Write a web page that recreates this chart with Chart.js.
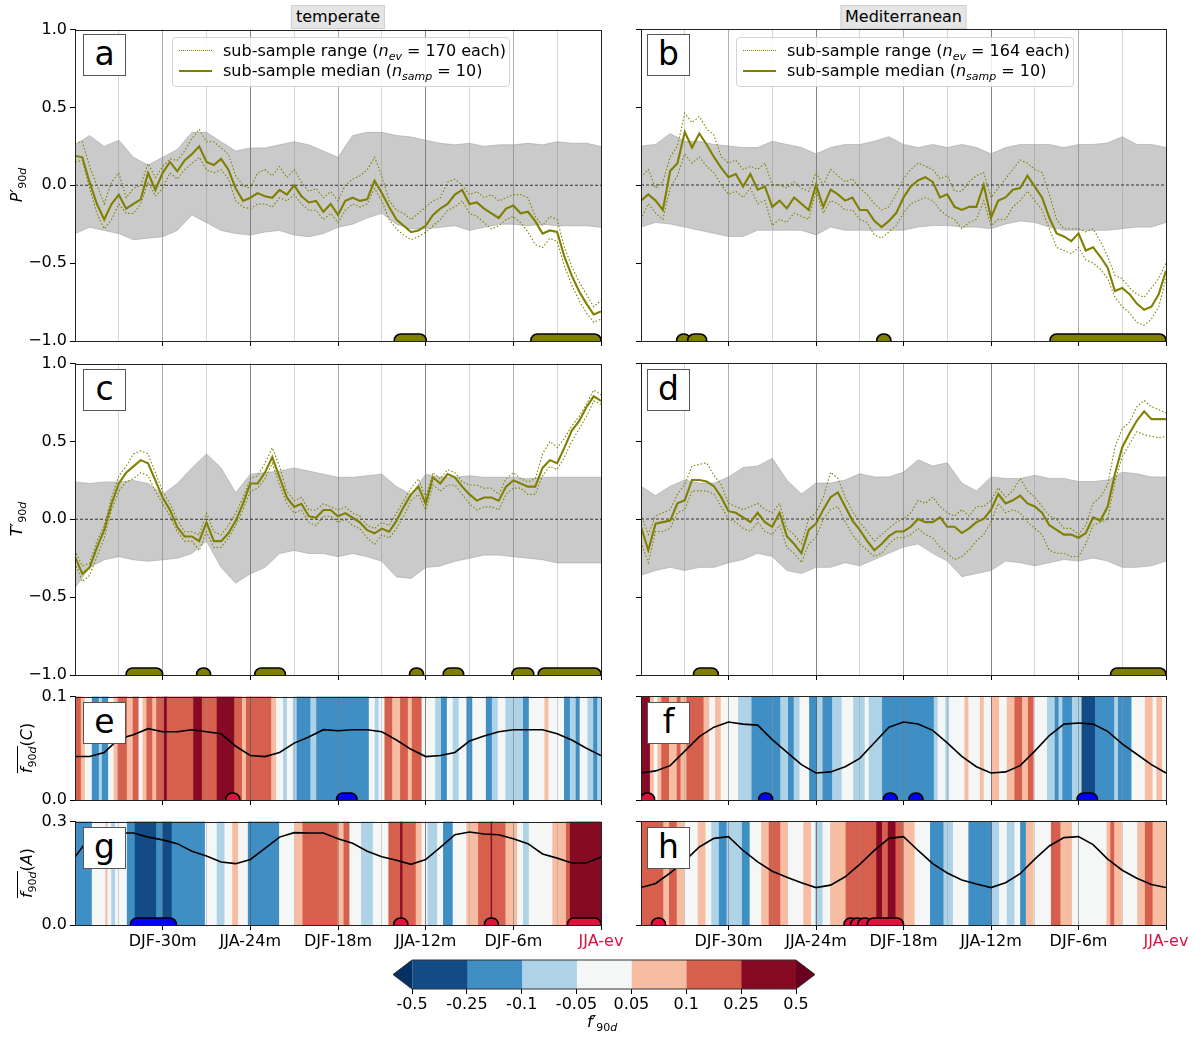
<!DOCTYPE html>
<html>
<head>
<meta charset="utf-8">
<script src="https://cdn.jsdelivr.net/npm/chart.js@4.4.0/dist/chart.umd.min.js"></script>
<style>
  body { margin: 0; background: #fff; font-family: "DejaVu Sans", sans-serif; }
  #fig { position: relative; width: 1202px; height: 1037px; overflow: hidden; background: #fff; }
  canvas { position: absolute; }
  .ov { position: absolute; color: #000; font-size: 16px; white-space: nowrap; }
  .letter { position: absolute; background: #fff; border: 1px solid #555; font-size: 33px;
            text-align: center; box-sizing: border-box; }
  .title { position: absolute; background: #e5e5e5; border: 1px solid #cfcfcf; font-size: 16px;
           padding: 0 4px; height: 22px; line-height: 22px; transform: translateX(-50%); }
  .ytitle { position: absolute; font-size: 16px; transform: translate(-50%, -50%) rotate(-90deg); white-space: nowrap; }
  .legend { position: absolute; background: rgba(255,255,255,0.85); border: 1px solid #d4d4d4;
            border-radius: 4px; box-sizing: border-box; }
  sub { font-size: 11px; vertical-align: -4px; }
  i { font-style: italic; }
</style>
</head>
<body>
<div id="fig"></div>
<script>
// ---------- DATA ----------
const monthGrid = [-36,-35,-34,-33,-32,-31,-30,-29,-28,-27,-26,-25,-24,-23,-22,-21,-20,-19,-18,-17,-16,-15,-14,-13,-12,-11,-10,-9,-8,-7,-6,-5,-4,-3,-2,-1,0];
const halfMonthGrid = [-36,-35.5,-35,-34.5,-34,-33.5,-33,-32.5,-32,-31.5,-31,-30.5,-30,-29.5,-29,-28.5,-28,-27.5,-27,-26.5,-26,-25.5,-25,-24.5,-24,-23.5,-23,-22.5,-22,-21.5,-21,-20.5,-20,-19.5,-19,-18.5,-18,-17.5,-17,-16.5,-16,-15.5,-15,-14.5,-14,-13.5,-13,-12.5,-12,-11.5,-11,-10.5,-10,-9.5,-9,-8.5,-8,-7.5,-7,-6.5,-6,-5.5,-5,-4.5,-4,-3.5,-3,-2.5,-2,-1.5,-1,-0.5,0];

const xTickMonths = [-30, -24, -18, -12, -6, 0];
const xTickLabels = ["DJF-30m", "JJA-24m", "DJF-18m", "JJA-12m", "DJF-6m", "JJA-ev"];

// panel a: P' temperate
const aMedian = [0.19,0.18,0.02,-0.12,-0.22,-0.12,-0.06,-0.15,-0.12,-0.09,0.08,-0.03,0.08,0.15,0.09,0.16,0.20,0.25,0.15,0.13,0.17,0.10,-0.02,-0.10,-0.08,-0.05,-0.07,-0.08,-0.03,-0.06,0.00,-0.07,-0.11,-0.10,-0.17,-0.12,-0.19,-0.10,-0.08,-0.10,-0.09,0.03,-0.05,-0.14,-0.22,-0.26,-0.30,-0.29,-0.26,-0.19,-0.15,-0.12,-0.06,-0.03,-0.12,-0.11,-0.15,-0.18,-0.21,-0.15,-0.13,-0.18,-0.17,-0.23,-0.31,-0.29,-0.30,-0.46,-0.58,-0.68,-0.76,-0.83,-0.81];
const aRangeHi = [0.27,0.28,0.12,0.00,-0.12,0.02,0.08,-0.08,-0.02,0.00,0.14,0.05,0.12,0.17,0.16,0.22,0.30,0.36,0.28,0.28,0.24,0.20,0.06,0.00,-0.02,0.08,0.10,0.06,0.12,0.05,0.10,0.02,-0.04,-0.02,-0.08,-0.04,-0.10,0.00,0.04,0.06,0.10,0.18,0.06,-0.10,-0.16,-0.18,-0.22,-0.18,-0.14,-0.10,-0.08,0.02,0.04,0.00,-0.06,-0.04,-0.08,-0.06,-0.10,-0.08,-0.06,-0.06,-0.08,-0.20,-0.26,-0.20,-0.22,-0.40,-0.52,-0.62,-0.70,-0.78,-0.74];
const aRangeLo = [0.15,0.16,-0.02,-0.18,-0.28,-0.22,-0.12,-0.18,-0.18,-0.12,0.02,-0.07,-0.02,0.08,0.04,0.10,0.14,0.18,0.10,0.08,0.10,0.04,-0.10,-0.14,-0.15,-0.12,-0.12,-0.14,-0.08,-0.10,-0.06,-0.12,-0.16,-0.16,-0.22,-0.18,-0.24,-0.16,-0.12,-0.14,-0.12,-0.02,-0.10,-0.22,-0.28,-0.32,-0.35,-0.33,-0.30,-0.26,-0.22,-0.16,-0.14,-0.10,-0.18,-0.20,-0.24,-0.28,-0.26,-0.22,-0.20,-0.24,-0.30,-0.38,-0.40,-0.34,-0.36,-0.52,-0.64,-0.74,-0.82,-0.88,-0.86];
const aBandHi = [0.26,0.32,0.25,0.29,0.18,0.13,0.18,0.23,0.34,0.34,0.28,0.22,0.24,0.24,0.26,0.28,0.26,0.22,0.18,0.32,0.34,0.34,0.32,0.31,0.29,0.27,0.26,0.27,0.25,0.26,0.26,0.27,0.26,0.28,0.27,0.27,0.25];
const aBandLo = [-0.31,-0.27,-0.29,-0.31,-0.35,-0.34,-0.33,-0.29,-0.19,-0.24,-0.29,-0.31,-0.32,-0.30,-0.29,-0.32,-0.33,-0.31,-0.27,-0.25,-0.21,-0.18,-0.25,-0.28,-0.28,-0.27,-0.26,-0.29,-0.27,-0.25,-0.25,-0.26,-0.25,-0.26,-0.26,-0.26,-0.27];
const aSig = [[-14.15, -11.96], [-4.8, 0]];

// panel b: P' Mediterranean
const bMedian = [-0.10,-0.06,-0.10,-0.16,0.09,0.14,0.34,0.24,0.33,0.26,0.18,0.11,0.05,0.07,-0.01,0.07,-0.03,-0.01,-0.14,-0.10,-0.15,-0.08,-0.12,-0.16,0.00,-0.14,-0.03,-0.06,-0.10,-0.08,-0.16,-0.16,-0.23,-0.27,-0.23,-0.18,-0.08,-0.01,0.03,0.05,0.02,-0.08,-0.06,-0.14,-0.16,-0.14,-0.14,0.00,-0.21,-0.10,-0.08,-0.03,-0.02,0.06,-0.01,-0.08,-0.21,-0.31,-0.33,-0.36,-0.31,-0.42,-0.40,-0.46,-0.53,-0.68,-0.66,-0.70,-0.76,-0.80,-0.78,-0.70,-0.55];
const bRangeHi = [0.05,0.10,-0.02,0.02,0.18,0.25,0.46,0.40,0.44,0.36,0.32,0.18,0.14,0.16,0.10,0.12,0.10,0.14,0.00,0.00,-0.02,0.02,-0.02,-0.04,0.08,0.00,0.10,0.06,0.02,0.04,-0.02,-0.06,-0.12,-0.16,-0.14,-0.06,0.04,0.10,0.14,0.12,0.10,0.04,0.06,-0.04,-0.04,0.02,0.06,0.08,-0.08,-0.02,0.04,0.10,0.16,0.14,0.10,0.08,-0.06,-0.22,-0.28,-0.28,-0.28,-0.30,-0.28,-0.36,-0.46,-0.58,-0.60,-0.66,-0.70,-0.72,-0.66,-0.60,-0.50];
const bRangeLo = [-0.22,-0.12,-0.18,-0.22,-0.02,0.06,0.20,0.14,0.18,0.12,0.08,0.00,-0.06,-0.04,-0.08,-0.02,-0.12,-0.10,-0.26,-0.22,-0.24,-0.18,-0.20,-0.22,-0.04,-0.18,-0.10,-0.12,-0.16,-0.16,-0.22,-0.24,-0.32,-0.34,-0.30,-0.26,-0.18,-0.12,-0.10,-0.08,-0.10,-0.16,-0.20,-0.22,-0.28,-0.24,-0.22,-0.10,-0.26,-0.22,-0.22,-0.14,-0.10,-0.04,-0.10,-0.16,-0.28,-0.40,-0.42,-0.44,-0.40,-0.48,-0.50,-0.54,-0.60,-0.72,-0.78,-0.82,-0.88,-0.90,-0.86,-0.78,-0.60];
const bBandHi = [0.25,0.26,0.33,0.28,0.28,0.26,0.25,0.24,0.24,0.28,0.26,0.24,0.20,0.24,0.26,0.26,0.28,0.31,0.26,0.24,0.26,0.24,0.26,0.24,0.20,0.24,0.26,0.26,0.26,0.24,0.26,0.26,0.27,0.31,0.26,0.26,0.24];
const bBandLo = [-0.27,-0.24,-0.25,-0.27,-0.29,-0.31,-0.33,-0.33,-0.29,-0.29,-0.29,-0.29,-0.32,-0.27,-0.29,-0.29,-0.29,-0.29,-0.29,-0.27,-0.26,-0.26,-0.27,-0.27,-0.28,-0.25,-0.23,-0.24,-0.27,-0.29,-0.29,-0.29,-0.29,-0.28,-0.27,-0.27,-0.24];
const bSig = [[-33.55, -32.6], [-32.8, -31.5], [-19.7, -19.0], [-7.95, 0]];

// panel c: T' temperate
const cMedian = [-0.24,-0.35,-0.31,-0.18,-0.07,0.10,0.23,0.30,0.34,0.38,0.36,0.25,0.14,0.06,-0.05,-0.11,-0.11,-0.14,-0.02,-0.14,-0.14,-0.09,-0.01,0.10,0.23,0.23,0.30,0.40,0.27,0.14,0.08,0.10,0.02,0.01,0.06,0.06,0.02,0.04,0.01,-0.02,-0.07,-0.09,-0.06,-0.08,-0.01,0.08,0.16,0.21,0.10,0.27,0.23,0.29,0.27,0.21,0.16,0.12,0.14,0.14,0.12,0.21,0.25,0.23,0.21,0.21,0.33,0.38,0.36,0.46,0.57,0.63,0.72,0.79,0.76];
const cRangeHi = [-0.20,-0.30,-0.28,-0.14,-0.04,0.14,0.28,0.34,0.42,0.44,0.42,0.30,0.18,0.10,0.00,-0.08,-0.08,-0.10,0.04,-0.08,-0.10,-0.04,0.04,0.14,0.26,0.28,0.36,0.46,0.34,0.18,0.12,0.14,0.06,0.06,0.10,0.08,0.06,0.08,0.04,0.02,-0.04,-0.06,-0.02,-0.04,0.04,0.12,0.20,0.26,0.14,0.30,0.26,0.32,0.30,0.24,0.22,0.22,0.20,0.20,0.16,0.26,0.30,0.26,0.24,0.26,0.42,0.50,0.46,0.52,0.60,0.66,0.74,0.83,0.80];
const cRangeLo = [-0.28,-0.40,-0.36,-0.24,-0.12,0.06,0.18,0.24,0.26,0.30,0.28,0.18,0.10,0.02,-0.08,-0.14,-0.14,-0.20,-0.08,-0.18,-0.18,-0.12,-0.04,0.06,0.18,0.20,0.26,0.36,0.22,0.10,0.04,0.06,-0.02,-0.04,0.02,0.02,-0.02,0.00,-0.04,-0.06,-0.12,-0.16,-0.10,-0.12,-0.06,0.02,0.12,0.16,0.06,0.22,0.18,0.22,0.22,0.16,0.10,0.06,0.08,0.08,0.06,0.16,0.20,0.20,0.16,0.16,0.28,0.34,0.32,0.40,0.50,0.58,0.66,0.76,0.74];
const cBandHi = [0.24,0.23,0.24,0.24,0.25,0.23,0.16,0.23,0.33,0.42,0.33,0.17,0.29,0.30,0.31,0.33,0.31,0.29,0.27,0.27,0.28,0.29,0.21,0.16,0.29,0.27,0.27,0.28,0.27,0.27,0.27,0.26,0.27,0.27,0.27,0.27,0.27];
const cBandLo = [-0.44,-0.31,-0.26,-0.24,-0.26,-0.27,-0.26,-0.25,-0.22,-0.14,-0.31,-0.41,-0.35,-0.31,-0.22,-0.20,-0.22,-0.22,-0.24,-0.22,-0.24,-0.27,-0.37,-0.38,-0.31,-0.30,-0.27,-0.25,-0.23,-0.23,-0.24,-0.25,-0.26,-0.28,-0.28,-0.28,-0.28];
const cSig = [[-32.5, -30.0], [-27.6, -26.8], [-23.7, -21.6], [-13.1, -12.15], [-10.8, -9.4], [-6.1, -4.6], [-4.3, 0]];

// panel d: T' Mediterranean
const dMedian = [-0.05,-0.20,-0.03,-0.02,-0.01,0.10,0.12,0.25,0.25,0.24,0.21,0.14,0.05,0.04,0.01,-0.02,0.04,-0.02,-0.05,0.04,-0.11,-0.16,-0.22,-0.07,-0.03,0.06,0.14,0.17,0.08,-0.01,-0.07,-0.14,-0.20,-0.16,-0.11,-0.08,-0.08,-0.05,0.00,-0.02,-0.02,0.01,-0.05,-0.05,-0.09,-0.06,-0.02,0.00,0.06,0.16,0.10,0.12,0.15,0.10,0.08,0.04,-0.04,-0.07,-0.10,-0.10,-0.12,-0.09,0.01,-0.01,0.08,0.29,0.46,0.55,0.63,0.69,0.64,0.64,0.64];
const dRangeHi = [0.03,-0.10,0.02,0.04,0.06,0.16,0.22,0.34,0.35,0.36,0.28,0.22,0.10,0.08,0.06,0.08,0.10,0.06,0.04,0.10,-0.06,-0.10,-0.16,0.00,0.04,0.14,0.30,0.26,0.14,0.05,-0.02,-0.08,-0.14,-0.10,-0.06,-0.02,0.00,0.04,0.12,0.10,0.14,0.08,0.04,0.02,0.06,0.02,0.08,0.08,0.12,0.20,0.14,0.18,0.26,0.18,0.14,0.08,0.02,0.00,-0.06,-0.06,-0.10,-0.04,0.10,0.14,0.22,0.46,0.58,0.62,0.72,0.76,0.72,0.70,0.68];
const dRangeLo = [-0.15,-0.28,-0.08,-0.08,-0.06,0.04,0.06,0.18,0.18,0.18,0.16,0.08,0.00,-0.02,-0.06,-0.08,-0.02,-0.08,-0.10,-0.04,-0.18,-0.22,-0.28,-0.16,-0.12,0.00,0.06,0.08,-0.02,-0.10,-0.16,-0.20,-0.24,-0.22,-0.16,-0.12,-0.12,-0.10,-0.06,-0.10,-0.12,-0.18,-0.22,-0.26,-0.24,-0.20,-0.14,-0.10,-0.02,0.10,0.04,0.06,0.04,-0.02,-0.06,-0.10,-0.20,-0.22,-0.22,-0.24,-0.24,-0.16,-0.04,-0.02,0.00,0.24,0.40,0.48,0.56,0.54,0.53,0.52,0.53];
const dBandHi = [0.21,0.15,0.21,0.25,0.23,0.23,0.27,0.33,0.34,0.39,0.25,0.16,0.23,0.23,0.25,0.29,0.27,0.27,0.30,0.38,0.34,0.36,0.23,0.18,0.27,0.26,0.26,0.28,0.26,0.26,0.24,0.24,0.25,0.30,0.29,0.27,0.27];
const dBandLo = [-0.36,-0.33,-0.31,-0.33,-0.31,-0.31,-0.28,-0.26,-0.22,-0.24,-0.33,-0.35,-0.31,-0.31,-0.28,-0.30,-0.26,-0.22,-0.18,-0.16,-0.22,-0.27,-0.37,-0.35,-0.33,-0.27,-0.28,-0.30,-0.28,-0.26,-0.27,-0.25,-0.27,-0.31,-0.31,-0.30,-0.27];
const dSig = [[-32.4, -30.7], [-3.8, 0]];

// panels e-h: mean frequency lines
const eLine = [0.042,0.042,0.046,0.059,0.063,0.069,0.066,0.066,0.068,0.066,0.064,0.052,0.043,0.042,0.046,0.055,0.061,0.068,0.067,0.068,0.068,0.066,0.058,0.049,0.042,0.043,0.046,0.057,0.062,0.066,0.068,0.068,0.068,0.064,0.058,0.050,0.043];
const fLine = [0.026,0.028,0.033,0.047,0.061,0.070,0.075,0.073,0.072,0.058,0.046,0.034,0.026,0.027,0.032,0.040,0.055,0.070,0.075,0.073,0.067,0.055,0.042,0.032,0.026,0.027,0.033,0.047,0.062,0.073,0.074,0.073,0.066,0.054,0.044,0.034,0.026];
const gLine = [0.197,0.255,0.267,0.267,0.267,0.255,0.247,0.236,0.214,0.200,0.183,0.178,0.190,0.222,0.255,0.268,0.267,0.267,0.250,0.237,0.214,0.198,0.188,0.176,0.190,0.225,0.262,0.270,0.264,0.262,0.250,0.236,0.206,0.194,0.180,0.180,0.197];
const hLine = [0.108,0.120,0.150,0.185,0.225,0.250,0.255,0.215,0.182,0.155,0.138,0.122,0.108,0.115,0.139,0.175,0.215,0.250,0.255,0.215,0.177,0.150,0.130,0.118,0.108,0.122,0.148,0.190,0.228,0.252,0.255,0.232,0.190,0.158,0.135,0.117,0.108];

// panels e-h: f' anomaly strips (run starts in months, value of each run)
const eStripStart = [-36,-35.6,-35.33,-34.85,-34.37,-34.16,-33.73,-33.36,-33.09,-32.45,-32.05,-31.65,-31.38,-31.11,-30.71,-30.44,-29.91,-29.72,-27.91,-27.32,-26.3,-25.1,-24.57,-24.3,-22.57,-22.24,-21.76,-21.5,-21.1,-20.83,-19.89,-19.49,-15.89,-15.49,-15.22,-14.82,-14.29,-13.75,-13.22,-12.95,-12.28,-11.35,-10.95,-10.55,-10.15,-9.74,-9.21,-8.81,-7.88,-7.47,-7.07,-6.54,-5.34,-4.94,-3.87,-3.6,-2.53,-2.13,-1.73,-1.46,-0.93,-0.53,-0.26];
const eStripVal = [0.15,0.07,0,-0.15,-0.07,-0.15,0,0.07,0.15,0.07,0.15,0,0.07,0.15,0.07,0.15,0.3,0.15,0.3,0.15,0.3,0.15,0.07,0.15,0.07,0,-0.07,0,-0.07,-0.15,-0.07,-0.15,0,-0.07,0,0.15,0.07,0.15,0.07,0.15,0,-0.07,-0.15,0,-0.07,0,-0.15,0,-0.15,-0.07,0,-0.07,-0.15,0,0.07,0,-0.15,-0.07,-0.15,0,-0.07,-0.15,-0.07];
const fStripStart = [-36,-35.39,-35.13,-34.87,-34.61,-34.08,-33.55,-33.29,-32.89,-31.71,-31.32,-30.92,-30.53,-29.34,-28.42,-26.45,-25.92,-25.53,-25.13,-24.47,-23.95,-23.55,-22.89,-22.24,-21.45,-20.66,-20.39,-19.47,-15.92,-15.66,-15.13,-14.87,-13.82,-13.55,-12.76,-12.5,-11.97,-11.45,-10.92,-10.39,-9.87,-9.47,-9.08,-8.16,-7.63,-7.37,-7.11,-6.45,-5.79,-4.87,-3.55,-3.29,-2.37,-1.45,-0.92,-0.66,-0.26];
const fStripVal = [0.3,0.07,0,0.07,0.15,0.07,0.15,0.07,0.15,0.07,0,0.07,0,-0.07,-0.15,-0.07,-0.15,-0.07,0,-0.15,-0.07,-0.15,-0.07,0,-0.07,0,-0.07,-0.15,-0.07,0,-0.07,0,0.07,0,0.07,0,0.07,0,0.07,0.15,0.07,0.15,0,-0.07,-0.15,-0.07,-0.15,-0.07,-0.3,-0.15,-0.07,-0.15,0,0.07,0,0.07,0];
const gStripStart = [-36,-34.85,-33.92,-33.78,-33.52,-33.25,-32.45,-31.91,-30.44,-30.04,-29.38,-27.11,-26.3,-25.77,-25.24,-24.84,-24.17,-22.03,-20.96,-20.43,-18.02,-17.62,-17.22,-16.42,-15.62,-14.55,-13.75,-13.59,-12.68,-12.28,-11.88,-11.21,-10.81,-10.15,-9.21,-8.41,-7.55,-7.45,-6.54,-5.74,-5.34,-4.94,-3.33,-2.4,-2.13];
const gStripVal = [-0.15,0,0.07,0,-0.07,0,-0.15,-0.3,-0.15,-0.3,-0.15,0,-0.07,0,0.07,0,-0.15,0,0.07,0.15,0.07,0.15,0,-0.07,0,0.15,0.3,0.15,0.07,0,-0.07,0,-0.15,0,0.07,0.15,0.3,0.15,0.07,0,-0.07,0,0.07,0.15,0.3];
const hStripStart = [-36,-34.47,-34.08,-33.55,-33.03,-32.11,-31.58,-31.18,-30.66,-30.13,-29.08,-28.55,-27.76,-27.24,-26.45,-25.92,-24.87,-24.34,-24.08,-23.55,-23.03,-21.97,-19.87,-19.47,-19.08,-18.55,-18.03,-17.24,-16.18,-15.26,-14.61,-13.55,-11.97,-11.45,-10.92,-10.39,-10,-9.61,-9.08,-7.89,-7.24,-6.45,-4.08,-3.82,-3.55,-3.03,-1.97,-1.45,-0.92];
const hStripVal = [0.15,0.07,0.15,0.07,0,0.07,0,-0.07,-0.15,-0.07,-0.15,0,0.07,0.15,0.07,0,0.07,0,-0.07,0,0.07,0.15,0.3,0.15,0.3,0.15,0.07,0,-0.15,-0.07,0,-0.15,-0.07,0,-0.07,0,-0.15,0.07,0,0.15,0.07,0,0.07,0.15,0.07,0,0.07,0.15,0.07];

// significance markers in the frequency panels
const eSigPos = [[-25.35, -25.05]];
const eSigNeg = [[-18.1, -16.7]];
const fSigPos = [[-36, -35.1]];
const fSigNeg = [[-27.6, -27.3], [-19.05, -18.75], [-17.3, -17.0], [-6.1, -4.7]];
const gSigPos = [[-13.85, -13.55], [-7.65, -7.35], [-2.3, 0]];
const gSigNeg = [[-32.2, -29.06]];
const hSigPos = [[-34.95, -34.65], [-21.8, -21.4], [-21.4, -20.9], [-20.9, -20.4], [-20.5, -18.0]];
const hSigNeg = [];

// colour bar
const cbBounds = ["-0.5", "-0.25", "-0.1", "-0.05", "0.05", "0.1", "0.25", "0.5"];
const cbColors = ["#134b86", "#3f8fc5", "#aed3e6", "#f5f6f6", "#f7bda3", "#d6604d", "#870a24"];
const cbUnder = "#053061", cbOver = "#67001f";
const cbEdges = [-0.5, -0.25, -0.1, -0.05, 0.05, 0.1, 0.25, 0.5];

// ---------- HELPERS ----------
const OLIVE = "#808000";
const FONT = '"DejaVu Sans", sans-serif';
Chart.defaults.font.family = FONT;
Chart.defaults.font.size = 16;
Chart.defaults.color = "#000";

const fig = document.getElementById("fig");
const pts = (xs, ys) => ys.map((y, i) => ({ x: xs[i], y }));

function fColor(v) {
  if (v < cbEdges[0]) return cbUnder;
  for (let i = 0; i < cbColors.length; i++) if (v < cbEdges[i + 1]) return cbColors[i];
  return cbOver;
}

function gridColor(v) {
  if (v === -36 || v === 0) return "rgba(0,0,0,0)";
  if (v % 12 === 0) return "rgba(90,90,90,0.75)";
  if (v % 6 === 0) return "rgba(120,120,120,0.6)";
  return "rgba(150,150,150,0.4)";
}

function fmtY(v) {
  if (Math.abs(v) < 1e-9) return "0.0";
  return (v < 0 ? "\u2212" : "") + Math.abs(v).toFixed(1);
}

function roundRect(ctx, x, y, w, h, r) {
  r = Math.min(r, w / 2, h / 2);
  ctx.beginPath();
  ctx.moveTo(x + r, y);
  ctx.arcTo(x + w, y, x + w, y + h, r);
  ctx.arcTo(x + w, y + h, x, y + h, r);
  ctx.arcTo(x, y + h, x, y, r);
  ctx.arcTo(x, y, x + w, y, r);
  ctx.closePath();
}

const stripPlugin = {
  id: "strip",
  beforeDraw(chart, args, opts) {
    if (!opts || !opts.start) return;
    const { ctx, chartArea: a, scales: { x } } = chart;
    ctx.save();
    for (let i = 0; i < opts.start.length; i++) {
      const x0 = x.getPixelForValue(opts.start[i]);
      const x1 = x.getPixelForValue(i + 1 < opts.start.length ? opts.start[i + 1] : 0);
      ctx.fillStyle = fColor(opts.val[i]);
      ctx.fillRect(x0, a.top, x1 - x0 + 0.6, a.bottom - a.top);
    }
    ctx.restore();
  }
};

const markPlugin = {
  id: "marks",
  afterDatasetsDraw(chart, args, opts) {
    if (!opts || !opts.groups) return;
    const { ctx, chartArea: a, scales: { x, y } } = chart;
    const y0 = y.getPixelForValue(y.min);
    ctx.save();
    ctx.beginPath();
    ctx.rect(a.left, a.top, a.right - a.left, a.bottom - a.top);
    ctx.clip();
    opts.groups.forEach(g => {
      g.spans.forEach(([s0, s1]) => {
        let p0 = x.getPixelForValue(s0), p1 = x.getPixelForValue(s1);
        if (p1 - p0 < 14) { const m = (p0 + p1) / 2; p0 = m - 7; p1 = m + 7; }
        roundRect(ctx, p0, y0 - 7, p1 - p0, 14, 6.5);
        ctx.fillStyle = g.fill;
        ctx.fill();
        ctx.lineWidth = 1.6;
        ctx.strokeStyle = "#000";
        ctx.stroke();
      });
    });
    ctx.restore();
  }
};

const framePlugin = {
  id: "frame",
  afterDraw(chart) {
    const { ctx, chartArea: a } = chart;
    ctx.save();
    ctx.strokeStyle = "#222";
    ctx.lineWidth = 1;
    ctx.strokeRect(Math.round(a.left) + 0.5, Math.round(a.top) + 0.5,
                   Math.round(a.right - a.left), Math.round(a.bottom - a.top));
    ctx.restore();
  }
};

const PAD_L = 60, PAD_T = 12, PAD_R = 32, PAD_B = 8;

function addCanvas(left, top, w, h) {
  const c = document.createElement("canvas");
  c.width = w; c.height = h;
  c.style.left = left + "px"; c.style.top = top + "px";
  c.style.width = w + "px"; c.style.height = h + "px";
  fig.appendChild(c);
  return c;
}

function panel(box, cfg) {
  const xh = cfg.xLabels ? 30 : 6;
  const w = box.w + PAD_L + PAD_R, h = box.h + PAD_T + xh + PAD_B;
  const cv = addCanvas(box.l - PAD_L, box.t - PAD_T, w, h);
  return new Chart(cv, {
    type: "line",
    data: { datasets: cfg.datasets },
    options: {
      responsive: false, animation: false, devicePixelRatio: 1,
      layout: { padding: { left: 0, top: PAD_T, right: PAD_R, bottom: PAD_B } },
      elements: { point: { radius: 0 }, line: { tension: 0 } },
      plugins: {
        legend: { display: false }, tooltip: { enabled: false },
        strip: cfg.strip || {}, marks: { groups: cfg.marks || [] }
      },
      scales: {
        x: {
          type: "linear", min: -36, max: 0,
          afterFit: s => { s.height = xh; },
          afterBuildTicks: s => { s.ticks = monthGrid.filter(m => m % 3 === 0).map(v => ({ value: v })); },
          grid: {
            color: c => gridColor(c.tick ? c.tick.value : -36), lineWidth: 1,
            drawTicks: true, tickLength: 5,
            tickColor: c => (c.tick && xTickMonths.includes(c.tick.value)) ? "#000" : "rgba(0,0,0,0)"
          },
          border: { color: "#222" },
          ticks: {
            display: !!cfg.xLabels, autoSkip: false, maxRotation: 0, padding: 2,
            color: c => (c.tick && c.tick.value === 0) ? "#dc143c" : "#000",
            callback: v => { const i = xTickMonths.indexOf(v); return i < 0 ? "" : xTickLabels[i]; }
          }
        },
        y: {
          type: "linear", min: cfg.ymin, max: cfg.ymax,
          afterFit: s => { s.width = PAD_L; },
          afterBuildTicks: s => { s.ticks = cfg.yTicks.map(v => ({ value: v })); },
          grid: { drawOnChartArea: false, drawTicks: true, tickLength: 5, tickColor: "#000" },
          border: { color: "#222" },
          ticks: { display: cfg.yLabels, padding: 3, callback: v => fmtY(v) }
        }
      }
    },
    plugins: [stripPlugin, markPlugin, framePlugin]
  });
}

function seriesSets(med, rHi, rLo, bHi, bLo) {
  const dotted = { borderColor: OLIVE, borderWidth: 1.1, borderDash: [1.5, 2] };
  return [
    { data: pts(halfMonthGrid, med), borderColor: OLIVE, borderWidth: 2.1 },
    Object.assign({ data: pts(halfMonthGrid, rHi) }, dotted),
    Object.assign({ data: pts(halfMonthGrid, rLo) }, dotted),
    { data: pts([-36, 0], [0, 0]), borderColor: "rgba(0,0,0,0.75)", borderWidth: 1.1, borderDash: [3, 2] },
    { data: pts(monthGrid, bHi), borderColor: "rgba(150,150,150,0.6)", borderWidth: 0.8 },
    { data: pts(monthGrid, bLo), borderColor: "rgba(150,150,150,0.6)", borderWidth: 0.8,
      fill: "-1", backgroundColor: "rgba(128,128,128,0.42)" }
  ];
}

function freqSets(line) {
  return [{ data: pts(monthGrid, line), borderColor: "#000", borderWidth: 1.6 }];
}

// ---------- PANELS ----------
const L1 = 75, W1 = 526, L2 = 641, W2 = 525;
const pYT = [-1, -0.5, 0, 0.5, 1];

panel({ l: L1, t: 29, w: W1, h: 312 }, { ymin: -1, ymax: 1, yTicks: pYT, yLabels: true,
  datasets: seriesSets(aMedian, aRangeHi, aRangeLo, aBandHi, aBandLo),
  marks: [{ spans: aSig, fill: OLIVE }] });
panel({ l: L2, t: 29, w: W2, h: 312 }, { ymin: -1, ymax: 1, yTicks: pYT, yLabels: false,
  datasets: seriesSets(bMedian, bRangeHi, bRangeLo, bBandHi, bBandLo),
  marks: [{ spans: bSig, fill: OLIVE }] });
panel({ l: L1, t: 363, w: W1, h: 312 }, { ymin: -1, ymax: 1, yTicks: pYT, yLabels: true,
  datasets: seriesSets(cMedian, cRangeHi, cRangeLo, cBandHi, cBandLo),
  marks: [{ spans: cSig, fill: OLIVE }] });
panel({ l: L2, t: 363, w: W2, h: 312 }, { ymin: -1, ymax: 1, yTicks: pYT, yLabels: false,
  datasets: seriesSets(dMedian, dRangeHi, dRangeLo, dBandHi, dBandLo),
  marks: [{ spans: dSig, fill: OLIVE }] });

panel({ l: L1, t: 696, w: W1, h: 104 }, { ymin: 0, ymax: 0.1, yTicks: [0, 0.1], yLabels: true,
  datasets: freqSets(eLine), strip: { start: eStripStart, val: eStripVal },
  marks: [{ spans: eSigPos, fill: "#dc143c" }, { spans: eSigNeg, fill: "#0000ff" }] });
panel({ l: L2, t: 696, w: W2, h: 104 }, { ymin: 0, ymax: 0.1, yTicks: [0, 0.1], yLabels: false,
  datasets: freqSets(fLine), strip: { start: fStripStart, val: fStripVal },
  marks: [{ spans: fSigPos, fill: "#dc143c" }, { spans: fSigNeg, fill: "#0000ff" }] });
panel({ l: L1, t: 821, w: W1, h: 104 }, { ymin: 0, ymax: 0.3, yTicks: [0, 0.3], yLabels: true, xLabels: true,
  datasets: freqSets(gLine), strip: { start: gStripStart, val: gStripVal },
  marks: [{ spans: gSigPos, fill: "#dc143c" }, { spans: gSigNeg, fill: "#0000ff" }] });
panel({ l: L2, t: 821, w: W2, h: 104 }, { ymin: 0, ymax: 0.3, yTicks: [0, 0.3], yLabels: false, xLabels: true,
  datasets: freqSets(hLine), strip: { start: hStripStart, val: hStripVal },
  marks: [{ spans: hSigPos, fill: "#dc143c" }, { spans: hSigNeg, fill: "#0000ff" }] });

// ---------- COLOUR BAR ----------
const cbExt = {
  id: "cbExt",
  afterDraw(chart) {
    const { ctx, chartArea: a } = chart;
    const tip = 19, midY = (a.top + a.bottom) / 2;
    ctx.save();
    ctx.fillStyle = cbUnder;
    ctx.beginPath(); ctx.moveTo(a.left, a.top); ctx.lineTo(a.left - tip, midY); ctx.lineTo(a.left, a.bottom); ctx.closePath(); ctx.fill();
    ctx.fillStyle = cbOver;
    ctx.beginPath(); ctx.moveTo(a.right, a.top); ctx.lineTo(a.right + tip, midY); ctx.lineTo(a.right, a.bottom); ctx.closePath(); ctx.fill();
    ctx.strokeStyle = "#333"; ctx.lineWidth = 1;
    ctx.beginPath();
    ctx.moveTo(a.left - tip, midY); ctx.lineTo(a.left, a.top); ctx.lineTo(a.right, a.top);
    ctx.lineTo(a.right + tip, midY); ctx.lineTo(a.right, a.bottom); ctx.lineTo(a.left, a.bottom);
    ctx.closePath(); ctx.stroke();
    ctx.restore();
  }
};
{
  const cv = addCanvas(372, 955, 464, 70);
  new Chart(cv, {
    type: "bar",
    data: {
      labels: [""],
      datasets: cbColors.map(c => ({ data: [1], backgroundColor: c, borderWidth: 0, barPercentage: 1, categoryPercentage: 1 }))
    },
    options: {
      responsive: false, animation: false, devicePixelRatio: 1, indexAxis: "y",
      layout: { padding: { left: 40, right: 40, top: 5, bottom: 0 } },
      plugins: { legend: { display: false }, tooltip: { enabled: false } },
      scales: {
        x: {
          type: "linear", stacked: true, min: 0, max: cbColors.length,
          afterFit: s => { s.height = 36; },
          afterBuildTicks: s => { s.ticks = cbBounds.map((b, i) => ({ value: i })); },
          grid: { drawOnChartArea: false, drawTicks: true, tickLength: 5, tickColor: "#000" },
          border: { display: false },
          ticks: { padding: 1, autoSkip: false, maxRotation: 0, callback: v => cbBounds[v] }
        },
        y: { stacked: true, display: false }
      }
    },
    plugins: [cbExt]
  });
}

// ---------- TEXT OVERLAYS ----------
function ov(html, css, cls) {
  const d = document.createElement("div");
  d.className = cls || "ov";
  d.innerHTML = html;
  Object.assign(d.style, css);
  fig.appendChild(d);
  return d;
}

ov("temperate", { left: "338px", top: "5px" }, "title");
ov("Mediterranean", { left: "903.5px", top: "5px" }, "title");

ov('<i>P</i>\u2032<sub>90<i>d</i></sub>', { left: "18px", top: "185px" }, "ytitle");
ov('<i>T</i>\u2032<sub>90<i>d</i></sub>', { left: "18px", top: "519px" }, "ytitle");
ov('<span style="display:inline-block;border-top:1px solid #000;padding-top:1px;line-height:16px"><i>f</i><sub>90<i>d</i></sub></span>(<i>C</i>)', { left: "29px", top: "748px" }, "ytitle");
ov('<span style="display:inline-block;border-top:1px solid #000;padding-top:1px;line-height:16px"><i>f</i><sub>90<i>d</i></sub></span>(<i>A</i>)', { left: "29px", top: "873px" }, "ytitle");

const letterBoxes = [
  ["a", 83, 34], ["b", 647, 34], ["c", 83, 369], ["d", 647, 369],
  ["e", 83, 702], ["f", 647, 702], ["g", 83, 827], ["h", 647, 827]
];
letterBoxes.forEach(([t, x, y]) => {
  ov(t, { left: x + "px", top: y + "px", width: "43px", height: "42px", lineHeight: "38px" }, "letter");
});

function legend(left, nev) {
  const box = ov("", { left: left + "px", top: "37px", width: "338px", height: "50px" }, "legend");
  const row = (y, sample, html) => {
    const s = document.createElement("div");
    s.style.cssText = "position:absolute;left:6px;width:33px;top:" + y + "px;" + sample;
    box.appendChild(s);
    const t = document.createElement("div");
    t.className = "ov";
    t.style.left = "50px"; t.style.top = (y - 9) + "px";
    t.innerHTML = html;
    box.appendChild(t);
  };
  row(12, "border-top:1.5px dotted " + OLIVE + ";height:0", 'sub-sample range (<i>n</i><sub><i>ev</i></sub> = ' + nev + ' each)');
  row(32, "height:2px;background:" + OLIVE, 'sub-sample median (<i>n</i><sub><i>samp</i></sub> = 10)');
}
legend(172, 170);
legend(736, 164);

ov('<i>f</i>\u2032<sub>90<i>d</i></sub>', { left: "587px", top: "1012px" });
</script>
</body>
</html>
